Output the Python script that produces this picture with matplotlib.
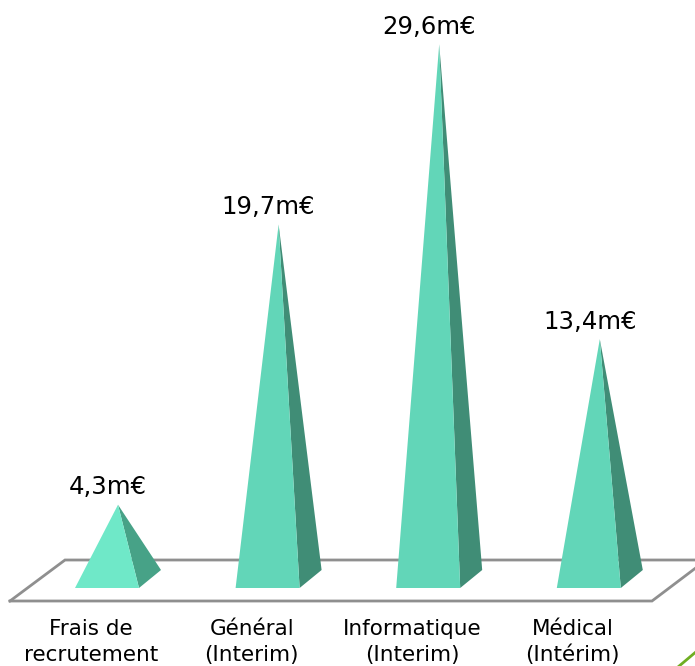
import matplotlib
matplotlib.use("Agg")
import matplotlib.pyplot as plt
from matplotlib.patches import Polygon
from matplotlib.lines import Line2D

categories = ["Frais de\nrecrutement", "Général\n(Interim)", "Informatique\n(Interim)", "Médical\n(Intérim)"]
values = [4.3, 19.7, 29.6, 13.4]
value_labels = ["4,3m€", "19,7m€", "29,6m€", "13,4m€"]

W, H = 695, 666
X0, XS = 107.0, 160.6
Y0, YS = 583.0, 18.2

fig = plt.figure(figsize=(W / 100, H / 100), dpi=100, facecolor="white")
ax = fig.add_axes([0, 0, 1, 1])
ax.set_xlim(-X0 / XS, (W - X0) / XS)
ax.set_ylim((Y0 - H) / YS, Y0 / YS)
ax.axis("off")


def px(dx):
    return dx / XS


def py(dy):
    return dy / YS


# platform (positions relative to the category axis)
floor = ax.transAxes
gray = "#8f8f8f"
ax.add_line(Line2D([10 / W, 652 / W, 697 / W], [1 - 601 / H, 1 - 601 / H, 1 - 567 / H], transform=floor,
                   color=gray, lw=2.0, solid_joinstyle="miter", zorder=1))
ax.add_line(Line2D([10 / W, 65 / W, 697 / W], [1 - 601 / H, 1 - 560 / H, 1 - 560 / H], transform=floor,
                   color=gray, lw=2.0, solid_joinstyle="miter", zorder=1))
# green corner accent
ax.add_line(Line2D([678 / W, 697 / W], [1 - 667 / H, 1 - 651 / H], transform=floor,
                   color="#6fae22", lw=2.0, zorder=1))

hw = px(32)
dep_x = px(22)
dep_y = py(18)
apex_dx = px(11)
base = py(-5)

for i, (cat, v, lab) in enumerate(zip(categories, values, value_labels)):
    front = "#6fe8c8" if i == 0 else "#62d6b8"
    side = "#47a287" if i == 0 else "#408d76"
    apex = (i + apex_dx, v)
    ax.add_patch(Polygon([(i + hw, base), (i + hw + dep_x, base + dep_y), apex],
                         closed=True, fc=side, ec="none", zorder=3))
    ax.add_patch(Polygon([(i - hw, base), (i + hw, base), apex],
                         closed=True, fc=front, ec="none", zorder=4))
    ax.text(i + px(1), v + py(17.5), lab, ha="center", va="center",
            fontsize=17.6, color="#000000", family="DejaVu Sans", zorder=5)
    ax.text(i - px(16), py(Y0 - 642), cat, ha="center", va="center", linespacing=1.38,
            fontsize=15.5, color="#000000", family="DejaVu Sans", zorder=5)

fig.savefig("out.png", dpi=100, facecolor="white")
